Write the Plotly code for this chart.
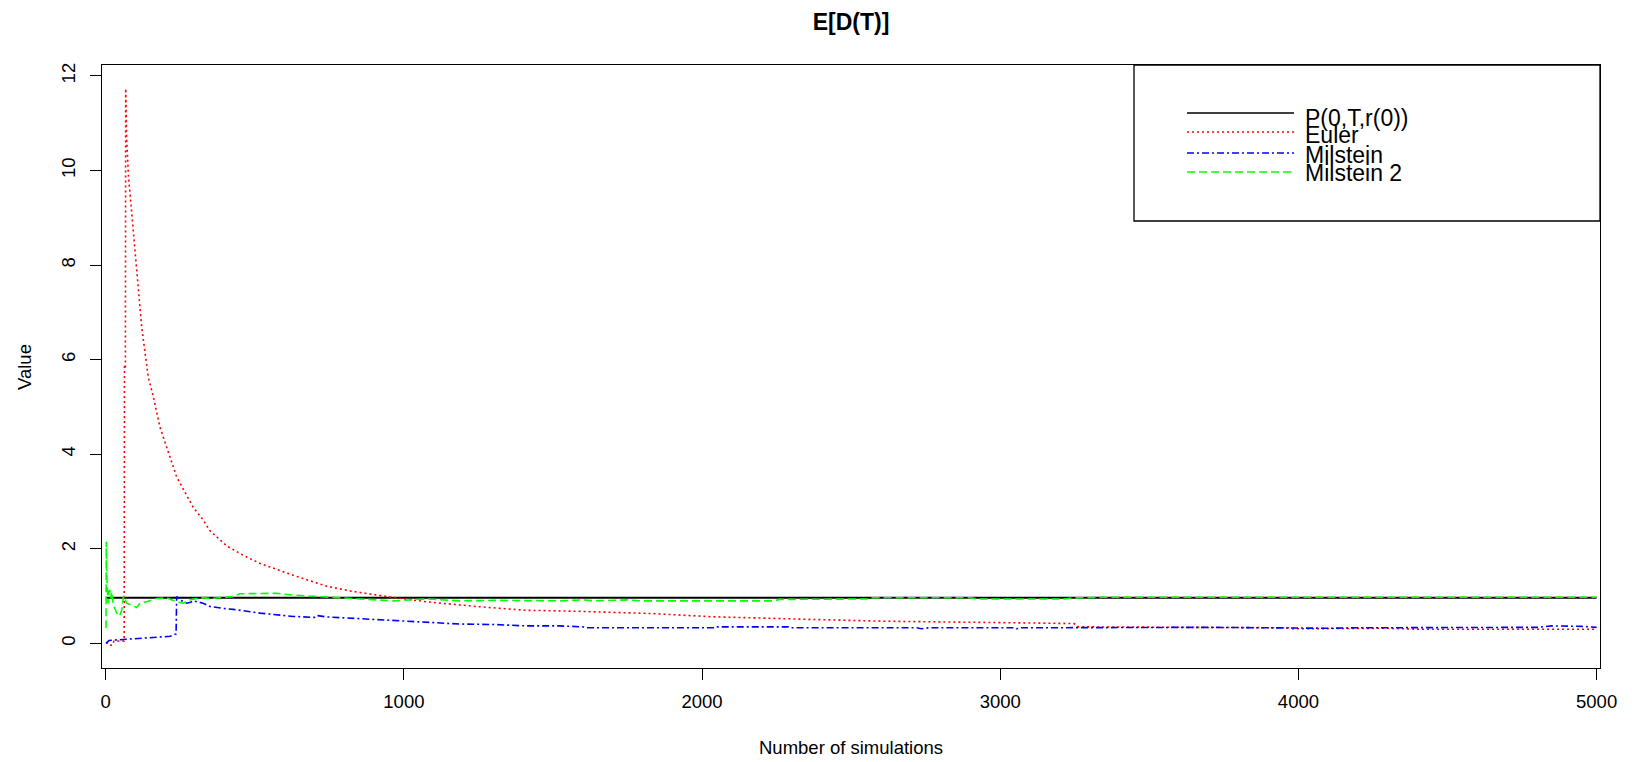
import plotly.graph_objects as go

# ---------------- data ----------------
exact_n = [1, 5000]
exact_v = [0.965, 0.965]

euler_n = [1, 10, 18, 22, 28, 62, 63, 66, 67, 70, 76, 87, 104, 121, 143, 155, 160, 182, 216, 238,
           294, 327, 350, 406, 462, 518, 629, 741, 819, 965, 1076, 1244, 1412, 1579, 1835, 2028,
           2348, 2606, 2861, 3016, 3248, 3262, 3500, 3970, 3980, 4250, 4300, 4400, 5000]
euler_v = [0.01, 0.01, -0.04, -0.04, 0.05, 0.05, 5.9, 5.8, 11.73, 10.72, 9.91, 9.10, 7.88, 6.67, 5.62,
           5.35, 5.21, 4.57, 3.92, 3.52, 2.87, 2.61, 2.38, 2.06, 1.86, 1.69, 1.44, 1.21, 1.11, 0.97,
           0.88, 0.78, 0.70, 0.68, 0.63, 0.565, 0.51, 0.47, 0.45, 0.44, 0.42, 0.35, 0.34, 0.33,
           0.31, 0.31, 0.32, 0.30, 0.30]

milstein_n = [1, 11, 28, 56, 115, 171, 216, 236, 238, 249, 272, 285, 294, 327, 350, 394, 428, 518,
              629, 700, 707, 741, 853, 965, 1076, 1188, 1300, 1356, 1412, 1523, 1600, 1610, 2040,
              2045, 2290, 2300, 2720, 2735, 2760, 3050, 3055, 3070, 3300, 3700, 4100, 4200, 4800,
              4850, 4950, 5000]
milstein_v = [0.0, 0.06, 0.07, 0.08, 0.10, 0.12, 0.15, 0.20, 0.99, 0.92, 0.85, 0.87, 0.90, 0.85,
              0.78, 0.74, 0.72, 0.64, 0.57, 0.55, 0.59, 0.56, 0.52, 0.49, 0.44, 0.41, 0.40, 0.38,
              0.37, 0.37, 0.35, 0.33, 0.33, 0.35, 0.35, 0.33, 0.33, 0.31, 0.33, 0.33, 0.31, 0.33,
              0.33, 0.34, 0.32, 0.33, 0.34, 0.37, 0.36, 0.34]

milstein2_n = [1, 2, 3, 5, 8, 11, 14, 17, 20, 26, 31, 37, 46, 54, 59, 62, 70, 87, 104, 115, 137,
               171, 205, 238, 260, 283, 316, 350, 394, 428, 450, 573, 629, 775, 853, 965, 1076,
               1188, 1300, 1523, 1600, 1640, 1750, 1800, 2246, 2258, 2560, 2570, 2900, 2924, 3215,
               3240, 3340, 5000]
milstein2_v = [0.32, 2.15, 1.62, 1.20, 0.85, 1.10, 1.13, 0.95, 1.09, 0.81, 0.71, 0.64, 0.58, 0.71,
               0.96, 1.01, 0.85, 0.81, 0.76, 0.85, 0.88, 0.95, 0.96, 0.88, 0.85, 0.92, 0.97, 0.95,
               0.97, 0.99, 1.05, 1.06, 1.02, 0.97, 0.94, 0.90, 0.94, 0.90, 0.91, 0.90, 0.92, 0.90,
               0.92, 0.90, 0.90, 0.93, 0.94, 0.965, 0.965, 0.94, 0.94, 0.96, 0.975, 0.975]

x_ticks = [0, 1000, 2000, 3000, 4000, 5000]
y_ticks = [0, 2, 4, 6, 8, 10, 12]

legend_labels = ["P(0,T,r(0))", "Euler", "Milstein", "Milstein 2"]
legend_colors = ["#000000", "#ff0000", "#0000ff", "#00ff00"]
legend_dashes = ["solid", "2px,3px", "7px,3px,2px,3px", "8px,4px"]

FONT = "Liberation Sans, Arial, sans-serif"

fig = go.Figure()
series = [(exact_n, exact_v), (euler_n, euler_v), (milstein_n, milstein_v), (milstein2_n, milstein2_v)]
for (xs, ys), name, col, dash in zip(series, legend_labels, legend_colors, legend_dashes):
    fig.add_trace(go.Scatter(x=xs, y=ys, mode="lines", name=name, showlegend=False,
                             line=dict(color=col, width=1.6 if name != "P(0,T,r(0))" else 1.8, dash=dash)))

# ---------------- layout geometry ----------------
W, H = 1632, 762
L, R, T, B = 102, 32, 65, 94
PW, PH = W - L - R, H - T - B

def px(xp):
    return (xp - L) / PW

def py(yp):
    return (H - B - yp) / PH

shapes = [dict(type="rect", xref="paper", yref="paper", x0=px(1134), x1=1.0, y0=py(221), y1=1.0,
               line=dict(color="black", width=1.3), fillcolor="white", layer="above")]
annotations = []
line_y = [113, 132, 153, 172]
text_y = [118, 135, 155, 173]
for lab, col, dash, ly, ty in zip(legend_labels, legend_colors, legend_dashes, line_y, text_y):
    shapes.append(dict(type="line", xref="paper", yref="paper", x0=px(1187), x1=px(1294),
                       y0=py(ly), y1=py(ly), line=dict(color=col, width=1.5, dash=dash), layer="above"))
    annotations.append(dict(xref="paper", yref="paper", x=px(1303), y=py(ty), text=lab,
                            showarrow=False, xanchor="left", yanchor="middle",
                            font=dict(family=FONT, size=23, color="black")))

annotations.append(dict(xref="paper", yref="paper", x=px(851), y=py(747), text="Number of simulations",
                        showarrow=False, xanchor="center", yanchor="middle",
                        font=dict(family=FONT, size=18.5, color="black")))
annotations.append(dict(xref="paper", yref="paper", x=px(25), y=py(367), text="Value", textangle=-90,
                        showarrow=False, xanchor="center", yanchor="middle",
                        font=dict(family=FONT, size=18.5, color="black")))

fig.update_layout(
    width=W, height=H,
    margin=dict(l=L, r=R, t=T, b=B),
    paper_bgcolor="white", plot_bgcolor="white",
    title=dict(text="<b>E[D(T)]</b>", x=851 / W, xanchor="center", y=1 - 22 / H, yanchor="middle",
               font=dict(family=FONT, size=23, color="black")),
    shapes=shapes, annotations=annotations,
    showlegend=False,
)
fig.update_xaxes(range=[-12.4, 5011.4], tickvals=x_ticks, ticktext=[str(v) for v in x_ticks],
                 showgrid=False, zeroline=False, showline=True, mirror=True, linecolor="black",
                 linewidth=1.3, ticks="outside", ticklen=11, tickcolor="black", tickwidth=1.3,
                 ticklabelstandoff=6,
                 tickfont=dict(family=FONT, size=18.5, color="black"))
fig.update_yaxes(range=[-0.52, 12.23], tickvals=y_ticks, ticktext=[str(v) for v in y_ticks],
                 showgrid=False, zeroline=False, showline=True, mirror=True, linecolor="black",
                 linewidth=1.3, ticks="outside", ticklen=11, tickcolor="black", tickwidth=1.3,
                 tickangle=-90, ticklabelstandoff=7,
                 tickfont=dict(family=FONT, size=18.5, color="black"))

fig.write_html("out.html", config={"displayModeBar": False},
               post_script="document.body.style.margin='0';document.body.style.overflow='hidden';")
